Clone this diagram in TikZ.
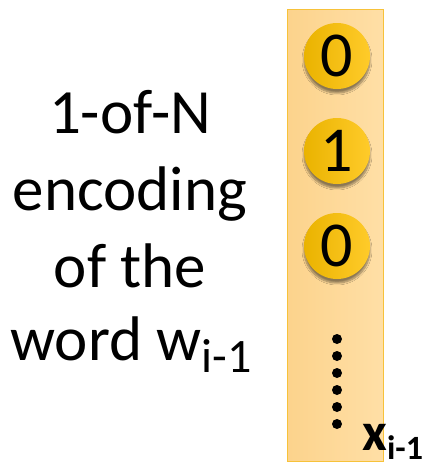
\documentclass[tikz,border=0pt]{standalone}
\usepackage{fontspec}
\setmainfont{Carlito}
\usetikzlibrary{shadows.blur}
\definecolor{barfillL}{HTML}{FCD38C}
\definecolor{barfillR}{HTML}{FFDFA6}
\definecolor{barline}{HTML}{F7C23A}
\definecolor{bitL}{HTML}{EAB300}
\definecolor{bitR}{HTML}{FFCB2A}
\begin{document}
\begin{tikzpicture}[x=1pt,y=-1pt,
  label/.style={inner sep=0pt,anchor=base,font=\fontsize{63}{72}\selectfont},
  bit/.style={circle,minimum size=66pt,inner sep=0pt,left color=bitL,right color=bitR,
    blur shadow={shadow xshift=0pt,shadow yshift=-4pt,shadow blur steps=8,shadow opacity=45},
    font=\fontsize{64}{66}\selectfont},
  dot/.style={circle,fill=black,minimum size=10pt,inner sep=0pt}]
\useasboundingbox (0,0) rectangle (437,467);
% the vector bar
\node[draw=barline,line width=0.8pt,left color=barfillL,right color=barfillR,
  minimum width=96pt,minimum height=452pt,inner sep=0pt] (bar) at (335,235) {};
% the bits
\node[bit] (b0) at (337,56) {0};
\node[bit] (b1) at (337,151) {1};
\node[bit] (b2) at (337,246) {0};
% ellipsis dots
\foreach \k in {0,...,5} \node[dot] (d\k) at (337,{339+17*\k}) {};
% vector label
\node[inner sep=0pt,anchor=base west] (xl) at (362,450)
  {\fontsize{54}{60}\selectfont\bfseries x\raisebox{-9pt}{\fontsize{34}{36}\selectfont i-1}};
% description text
\node[label] (t1) at (130,133) {1-of-N};
\node[label] (t2) at (130,210) {encoding};
\node[label] (t3) at (130,287) {of the};
\node[label] (t4) at (131,360) {word w\raisebox{-12pt}{\fontsize{48}{50}\selectfont i-1}};
\end{tikzpicture}
\end{document}
